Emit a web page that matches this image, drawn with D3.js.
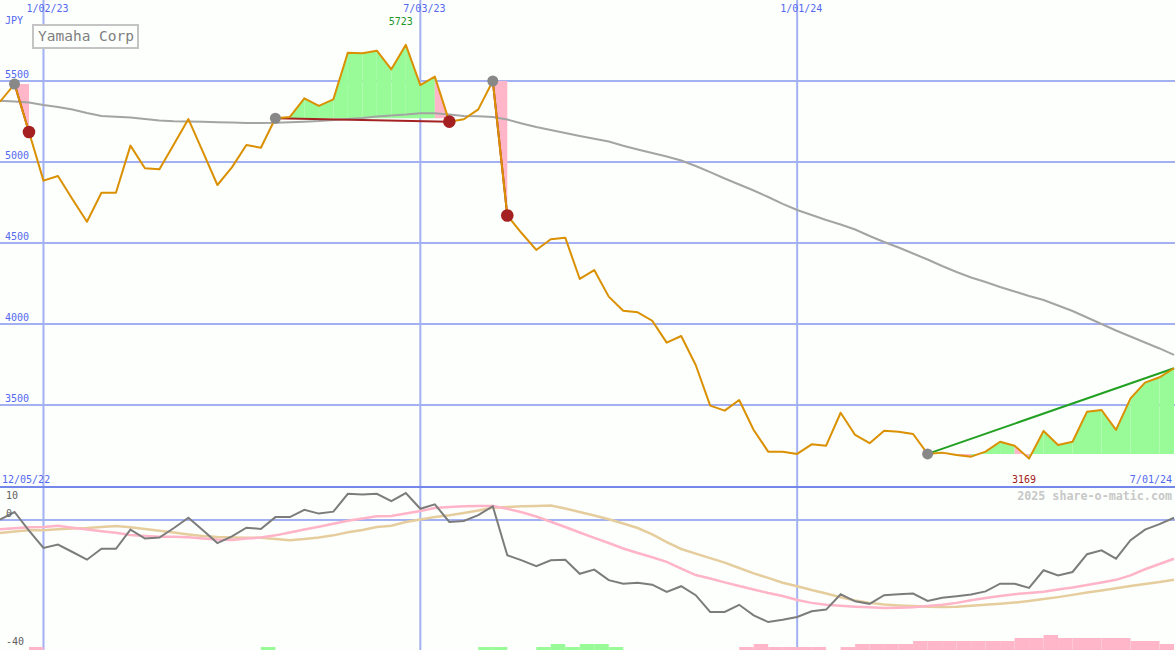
<!DOCTYPE html>
<html><head><meta charset="utf-8">
<script src="https://cdn.jsdelivr.net/npm/d3@7"></script>
<style>body{margin:0;background:#fcfffc} svg{display:block}</style>
</head><body>
<svg id="c" width="1175" height="650"></svg>
<script>
// ---- data ----
const title = "Yamaha Corp";
const currency = "JPY";
const startLabel = "12/05/22";
const endLabel = "7/01/24";
const copyright = "2025 share-o-matic.com";
const dates = d3.timeMonday.range(new Date(2022, 11, 12), new Date(2024, 6, 2));
const prices = [5372,5481,5185,4885,4914,4770,4631,4810,4810,5101,4961,4955,5110,5265,5062,4858,4967,5105,5088,5270,
  5278,5393,5346,5387,5675,5671,5687,5572,5723,5475,5527,5249,5264,5325,5500,4670,4560,4457,4523,4533,
  4278,4333,4169,4082,4072,4020,3885,3926,3747,3496,3465,3531,3346,3212,3212,3198,3257,3249,3452,3315,
  3264,3341,3335,3321,3198,3206,3191,3181,3212,3273,3249,3169,3340,3253,3273,3459,3469,3346,3541,3638,
  3671,3727];
const movingAvg = [5378,5373,5367,5352,5340,5324,5302,5284,5279,5274,5265,5256,5252,5250,5248,5246,5244,5241,5240,5242,
  5246,5249,5253,5259,5265,5272,5281,5287,5293,5301,5301,5293,5284,5282,5278,5262,5238,5216,5198,5179,
  5160,5143,5127,5100,5077,5056,5034,5009,4975,4938,4898,4861,4824,4784,4741,4704,4673,4642,4614,4583,
  4543,4506,4472,4435,4398,4358,4321,4287,4259,4228,4201,4173,4148,4114,4080,4040,4000,3960,3923,3886,
  3849,3809];
const oscillator = [0.1,2.5,-3.3,-8.75,-7.7,-10,-12.4,-9.0,-9.0,-3.0,-5.8,-5.5,-2.5,0.7,-3.2,-7.2,-5.1,-2.4,-2.8,0.9,
  0.9,3.2,2.0,2.6,8.2,8.0,8.2,5.9,8.4,3.5,4.9,-0.6,-0.3,1.5,4.3,-11.0,-12.6,-14.4,-12.6,-12.4,
  -16.8,-15.5,-18.8,-19.9,-19.6,-20.2,-22.5,-20.7,-23.5,-28.75,-28.75,-26.5,-29.8,-31.9,-31.2,-30.3,-28.5,-28.0,-23.2,-25.4,
  -26.2,-23.5,-23.2,-23.0,-25.3,-24.3,-23.8,-23.3,-22.3,-19.9,-19.9,-21.2,-15.7,-17.3,-16.25,-10.7,-9.5,-12.1,-6.3,-3.0,
  -1.3,0.7];
const oscFast = [-2.9,-2.6,-2.3,-2.2,-1.8,-2.4,-3.0,-3.5,-4.0,-4.7,-5.0,-5.2,-5.25,-5.4,-5.75,-6.1,-6.25,-5.8,-5.5,-4.8,
  -3.9,-3.0,-2.1,-1.15,-0.25,0.5,1.15,1.25,2.0,2.8,3.75,4.1,4.3,4.35,4.4,3.5,2.4,1.1,-0.55,-2.2,
  -3.9,-5.6,-7.2,-8.9,-10.3,-11.65,-13.1,-15.2,-17.2,-18.3,-19.5,-20.6,-21.7,-22.8,-23.75,-25,-25.9,-26.5,-26.8,-27.1,
  -27.3,-27.5,-27.4,-27.25,-26.9,-26.5,-25.9,-25.1,-24.4,-23.75,-23.2,-22.8,-22.4,-21.7,-21.1,-20.3,-19.5,-18.7,-17.3,-15.4,
  -13.75,-12.1];
const oscSlow = [-4.1,-3.6,-3.2,-3.2,-2.9,-2.65,-2.5,-2.2,-1.9,-2.3,-2.8,-3.35,-3.9,-4.5,-5.0,-5.35,-5.5,-5.55,-5.55,-5.95,
  -6.3,-5.95,-5.45,-4.8,-3.8,-3.1,-2.2,-1.8,-0.6,0.15,0.95,1.5,2.2,3.0,3.8,4.05,4.3,4.4,4.5,3.6,
  2.5,1.4,0.25,-1.1,-2.5,-4.5,-6.9,-9.05,-10.5,-11.9,-13.3,-15,-16.7,-18.1,-19.6,-20.7,-21.9,-22.95,-24.15,-25.15,
  -25.9,-26.4,-26.7,-26.9,-27.1,-27.15,-27.1,-26.8,-26.5,-26.2,-25.8,-25.3,-24.7,-24.1,-23.4,-22.65,-22.0,-21.35,-20.6,-20,
  -19.4,-18.65];
const signalBars = [0,0,-1,0,0,0,0,0,0,0,0,0,0,0,0,0,0,0,1,0,
  0,0,0,0,0,0,0,0,0,0,0,0,0,1,1,0,0,1,2,1,
  2,2,1,0,0,0,0,0,0,0,0,-1,-2,-1,-1,-1,-1,0,-1,-2,
  -2,-2,-2,-3,-3,-3,-3,-3,-3,-3,-4,-4,-5,-4,-4,-4,-4,-4,-3,-3,
  -2,0];
const tradeEntry = [1, 19, 34, 64];
const tradeExit = [2, 31, 35, 81];
const tradeClosed = [true, true, true, false];
const priceTicks = [3500, 4000, 4500, 5000, 5500];
const dateTicks = [new Date(2023,0,2), new Date(2023,6,3), new Date(2024,0,1)];
const dateTickLabels = ["1/02/23", "7/03/23", "1/01/24"];
const oscTicks = [10, 0, -40];

// ---- drawing ----
const W = 1175, H = 650;
const mono = "'DejaVu Sans Mono', monospace";
const svg = d3.select("#c");
svg.append("rect").attr("width", W).attr("height", H).attr("fill", "#fcfffc");

const x = d3.scaleTime().domain([dates[0], dates[dates.length - 1]]).range([0, 1174]);
const y = d3.scaleLinear().domain([3000, 5500]).range([486, 81]);
const y2 = d3.scaleLinear().domain([-40, 10]).range([648, 488]);
const barH = d3.scaleLinear().domain([0, 5]).range([0, 15]);
const gridCol = "#a3b1f2";
const blue = "#5468f0";

// horizontal price grid
const gy = svg.append("g")
  .call(d3.axisLeft(y).tickValues(priceTicks).tickSize(-W).offset(0).tickFormat(d => d));
gy.select(".domain").remove();
gy.selectAll(".tick line").attr("stroke", gridCol).attr("stroke-width", 2);
gy.selectAll(".tick text").attr("x", 5).attr("y", -3).attr("dy", 0)
  .attr("text-anchor", "start").attr("fill", blue).style("font", "10px " + mono);

// lower panel zero line
const gy2 = svg.append("g")
  .call(d3.axisLeft(y2).tickValues([0]).tickSize(-W).offset(0).tickFormat(""));
gy2.select(".domain").remove();
gy2.selectAll(".tick line").attr("stroke", gridCol).attr("stroke-width", 2);

// vertical date grid
const gx = svg.append("g")
  .call(d3.axisTop(x).tickValues(dateTicks).tickSize(-H).offset(0)
    .tickFormat((d, i) => dateTickLabels[i]));
gx.select(".domain").remove();
gx.selectAll(".tick line").attr("stroke", gridCol).attr("stroke-width", 2);
gx.selectAll(".tick text").attr("x", -17).attr("y", 12).attr("dy", 0)
  .attr("text-anchor", "start").attr("fill", blue).style("font", "10px " + mono);

// upper panel clip
svg.append("clipPath").attr("id", "up").append("rect").attr("x", 0).attr("y", 0).attr("width", W).attr("height", 486);
svg.append("clipPath").attr("id", "lo").append("rect").attr("x", 0).attr("y", 488).attr("width", W).attr("height", 162);
const up = svg.append("g").attr("clip-path", "url(#up)");
const lo = svg.append("g").attr("clip-path", "url(#lo)");

// trade fills
tradeEntry.forEach((e, t) => {
  const base = prices[e];
  for (let i = e; i < tradeExit[t]; i++) {
    const pts = [[x(dates[i]), y(base)], [x(dates[i]), y(prices[i])],
                 [x(dates[i + 1]), y(prices[i + 1])], [x(dates[i + 1]), y(base)]];
    up.append("polygon").attr("points", pts.map(p => p.join(",")).join(" "))
      .attr("fill", prices[i + 1] >= base ? "#98fb98" : "#ffb6c8")
      .attr("stroke", "none");
  }
});

// moving average
up.append("path").datum(movingAvg)
  .attr("d", d3.line().x((d, i) => x(dates[i])).y(d => y(d)))
  .attr("fill", "none").attr("stroke", "#a4a4a4").attr("stroke-width", 2);

// trade lines
tradeEntry.forEach((e, t) => {
  const ex = tradeExit[t];
  up.append("line")
    .attr("x1", x(dates[e])).attr("y1", y(prices[e]))
    .attr("x2", x(dates[ex])).attr("y2", y(prices[ex]))
    .attr("stroke", prices[ex] > prices[e] ? "#22a022" : "#a42222").attr("stroke-width", 2);
});

// price line
up.append("path").datum(prices)
  .attr("d", d3.line().x((d, i) => x(dates[i])).y(d => y(d)))
  .attr("fill", "none").attr("stroke", "#da9000").attr("stroke-width", 2).attr("stroke-linejoin", "round");

// markers
tradeEntry.forEach((e, t) => {
  up.append("circle").attr("cx", x(dates[e])).attr("cy", y(prices[e])).attr("r", 5.5).attr("fill", "#888888");
  if (tradeClosed[t]) {
    const ex = tradeExit[t];
    up.append("circle").attr("cx", x(dates[ex])).attr("cy", y(prices[ex])).attr("r", 6.3).attr("fill", "#a52020");
  }
});

// max / min labels
const iMax = d3.maxIndex(prices), iMin = d3.minIndex(prices);
svg.append("text").attr("x", x(dates[iMax]) - 17).attr("y", y(prices[iMax]) - 20)
  .attr("fill", "#22962a").style("font", "10px " + mono).text(prices[iMax]);
svg.append("text").attr("x", x(dates[iMin]) - 17).attr("y", 483)
  .attr("fill", "#a52020").style("font", "10px " + mono).text(prices[iMin]);

// other labels
svg.append("text").attr("x", 5).attr("y", 24).attr("fill", blue).style("font", "10px " + mono).text(currency);
svg.append("text").attr("x", 2).attr("y", 483).attr("fill", blue).style("font", "10px " + mono).text(startLabel);
svg.append("text").attr("x", 1172).attr("y", 483).attr("text-anchor", "end").attr("fill", blue)
  .style("font", "10px " + mono).text(endLabel);

// title box
svg.append("rect").attr("x", 33).attr("y", 25).attr("width", 105).attr("height", 23)
  .attr("fill", "#fcfffc").attr("stroke", "#c4c4c4").attr("stroke-width", 2);
svg.append("text").attr("x", 38).attr("y", 41).attr("fill", "#808080")
  .style("font", "14.5px " + mono).text(title);

// lower panel bars
lo.selectAll("rect.bar").data(signalBars).join("rect").attr("class", "bar")
  .attr("x", (d, i) => x(dates[i]))
  .attr("width", (d, i) => i < dates.length - 1 ? x(dates[i + 1]) - x(dates[i]) : 14.5)
  .attr("y", d => 650 - barH(Math.abs(d)))
  .attr("height", d => barH(Math.abs(d)))
  .attr("fill", d => d > 0 ? "#98fb98" : "#ffb6c8");

// lower panel lines
const l2 = d3.line().x((d, i) => x(dates[i])).y(d => y2(d));
lo.append("path").datum(oscSlow).attr("d", l2).attr("fill", "none").attr("stroke", "#e6cd9e").attr("stroke-width", 2.5);
lo.append("path").datum(oscFast).attr("d", l2).attr("fill", "none").attr("stroke", "#ffb4c8").attr("stroke-width", 2.5);
lo.append("path").datum(oscillator).attr("d", l2).attr("fill", "none").attr("stroke", "#7c7c7c").attr("stroke-width", 2);

// lower labels
svg.append("text").attr("x", 6).attr("y", y2(oscTicks[0]) + 11).attr("fill", "#606060").style("font", "10px " + mono).text(oscTicks[0]);
svg.append("text").attr("x", 6).attr("y", y2(oscTicks[1]) - 3).attr("fill", "#606060").style("font", "10px " + mono).text(oscTicks[1]);
svg.append("text").attr("x", 6).attr("y", y2(oscTicks[2]) - 3).attr("fill", "#606060").style("font", "10px " + mono).text(oscTicks[2]);

// separator
svg.append("line").attr("x1", 0).attr("x2", W).attr("y1", 487).attr("y2", 487)
  .attr("stroke", "#7488ec").attr("stroke-width", 2);

svg.append("text").attr("x", 1172).attr("y", 500).attr("text-anchor", "end").attr("fill", "#c8c8c8")
  .style("font", "bold 11.7px " + mono).text(copyright);
</script>
</body></html>
